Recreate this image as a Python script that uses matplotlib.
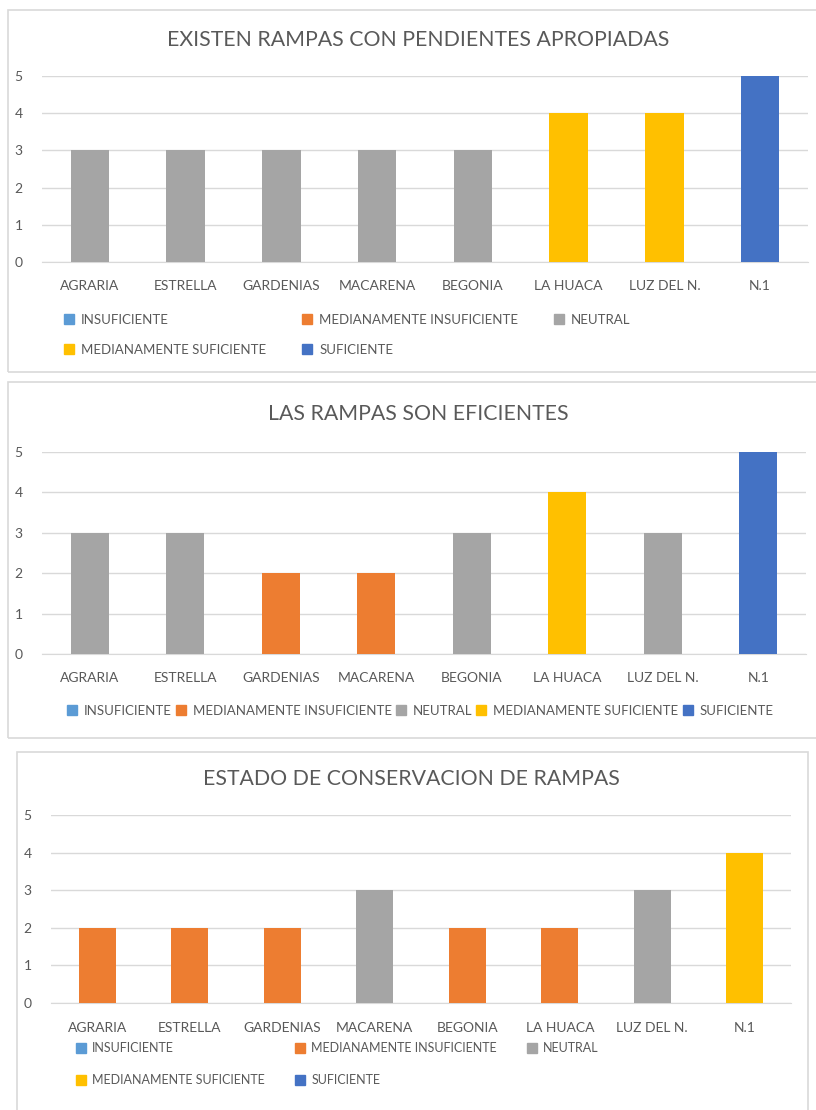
import matplotlib
matplotlib.use("Agg")
import matplotlib.pyplot as plt
from matplotlib.lines import Line2D
from matplotlib.patches import Rectangle

plt.rcParams.update({"font.family": ["Lato", "DejaVu Sans"]})

cats = ["AGRARIA", "ESTRELLA", "GARDENIAS", "MACARENA", "BEGONIA", "LA HUACA", "LUZ DEL N.", "N.1"]
pendientes = [3, 3, 3, 3, 3, 4, 4, 5]
eficientes = [3, 3, 2, 2, 3, 4, 3, 5]
conservacion = [2, 2, 2, 3, 2, 2, 3, 4]
niveles = ["INSUFICIENTE", "MEDIANAMENTE INSUFICIENTE", "NEUTRAL", "MEDIANAMENTE SUFICIENTE", "SUFICIENTE"]
colores = ["#5B9BD5", "#ED7D31", "#A5A5A5", "#FFC000", "#4472C4"]

TXT, GRID = "#595959", "#D9D9D9"
W, H = 816, 1110
fig = plt.figure(figsize=(W / 100, H / 100), dpi=100)


def px(x0, y0, x1, y1):
    return [x0 / W, 1 - y1 / H, (x1 - x0) / W, (y1 - y0) / H]


def panel(rect_px, box_px, title, title_xy, vals, leg_ncol, leg_order, leg_xy, leg_loc, xpad,
          leg_fs=9.5, colsp=0.3, labsp=1.25):
    b = box_px
    fig.add_artist(Rectangle((b[0] / W, 1 - b[3] / H), (b[2] - b[0]) / W, (b[3] - b[1]) / H,
                             transform=fig.transFigure, fill=False, ec=GRID, lw=1.2))
    ax = fig.add_axes(px(*rect_px))
    x = range(len(cats))
    ax.bar(x, vals, width=0.4, color=[colores[v - 1] for v in vals], zorder=3)
    ax.set_xlim(-0.5, len(cats) - 0.5); ax.set_ylim(0, 5)
    ax.set_yticks(range(6))
    ax.yaxis.grid(True, color=GRID, lw=1.0, zorder=0)
    for s in ["top", "right", "left"]:
        ax.spines[s].set_visible(False)
    ax.spines["bottom"].set_color(GRID)
    ax.set_xticks(list(x)); ax.set_xticklabels(cats)
    ax.tick_params(axis="x", length=0, pad=xpad, labelsize=10, labelcolor=TXT)
    ax.tick_params(axis="y", length=0, pad=14, labelsize=10, labelcolor=TXT)
    fig.text(title_xy[0] / W, 1 - title_xy[1] / H, title, ha="center", va="center", fontsize=15.3, color=TXT)
    hs = [Line2D([], [], marker="s", ls="none", ms=7, color=colores[i]) for i in leg_order]
    fig.legend(hs, [niveles[i] for i in leg_order], ncol=leg_ncol, frameon=False, fontsize=leg_fs,
               labelcolor=TXT, loc=leg_loc, bbox_to_anchor=(leg_xy[0] / W, 1 - leg_xy[1] / H),
               handlelength=0.8, handletextpad=0.5, borderpad=0, borderaxespad=0,
               columnspacing=colsp, labelspacing=labsp)
    return ax


order3 = [0, 3, 1, 4, 2]
panel((42, 76, 808, 262), (8, 10, 830, 372), "EXISTEN RAMPAS CON PENDIENTES APROPIADAS", (418, 40),
      pendientes, 3, order3, (64, 335), "center left", 13, colsp=2.7, labsp=1.35)
panel((42, 452, 806, 654), (8, 382, 830, 738), "LAS RAMPAS SON EFICIENTES", (418, 414),
      eficientes, 5, [0, 1, 2, 3, 4], (420, 711), "center", 13)
panel((51, 815, 791, 1003), (17, 752, 808, 1130), "ESTADO DE CONSERVACION DE RAMPAS", (411, 779),
      conservacion, 3, order3, (76, 1064), "center left", 14, leg_fs=9.0, colsp=2.4, labsp=1.6)

fig.savefig("out.png", dpi=100, facecolor="white")
